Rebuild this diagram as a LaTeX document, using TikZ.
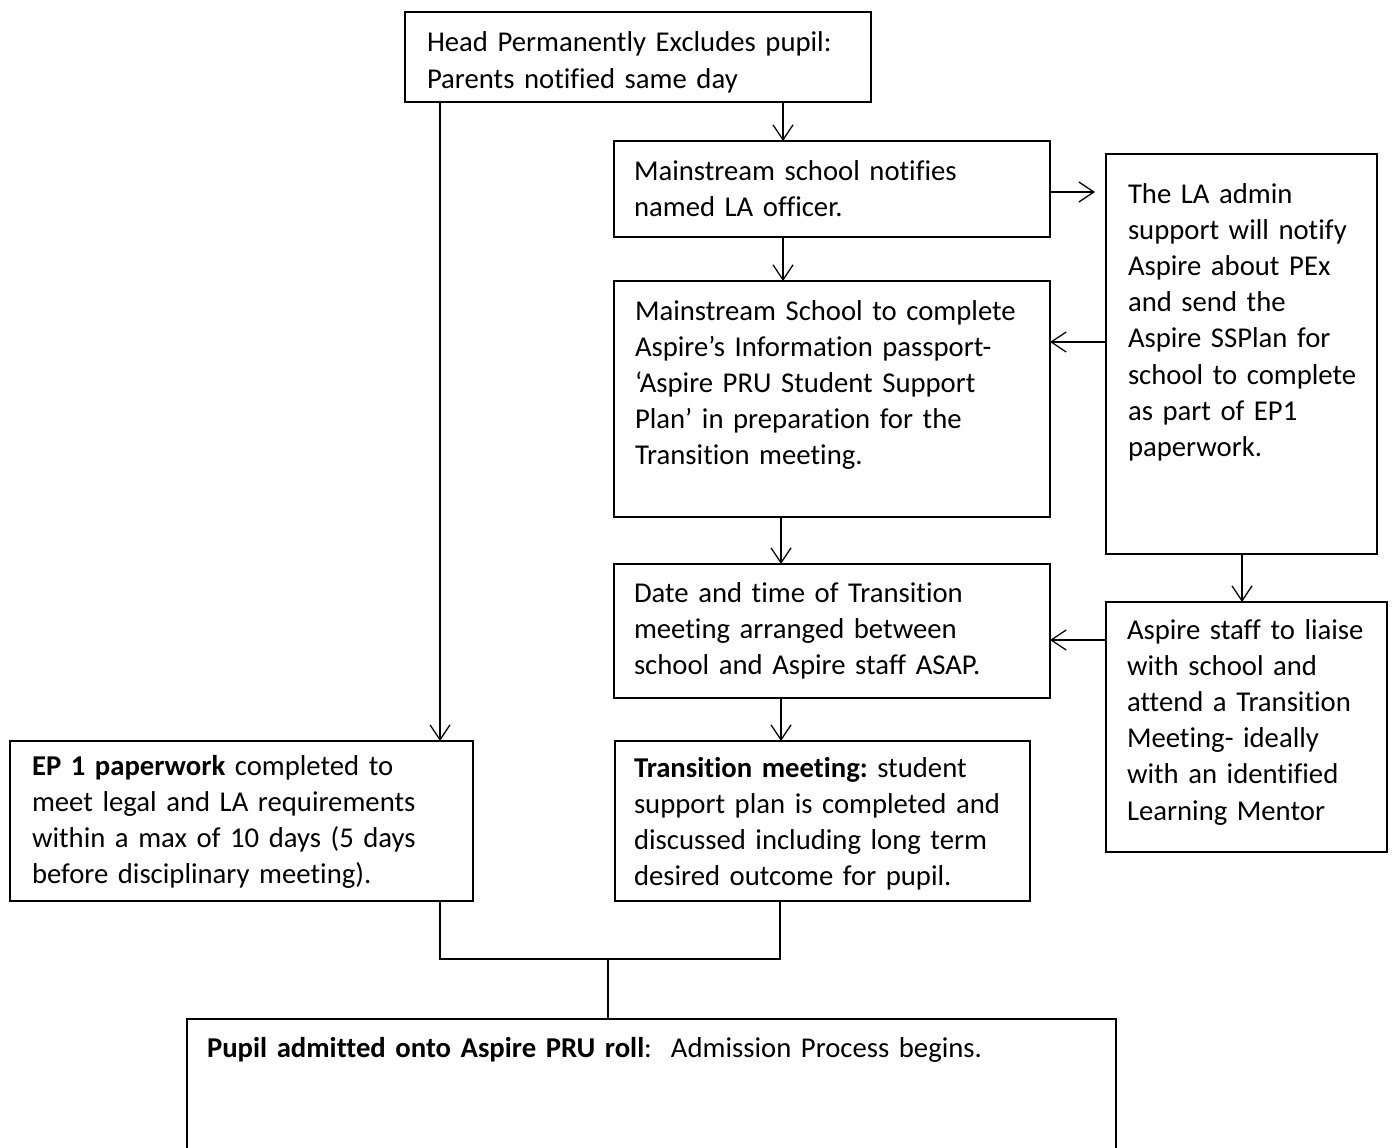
\documentclass[tikz,border=0pt]{standalone}
\usepackage{fontspec}
\setmainfont{Carlito}[Ligatures=NoCommon]
\usetikzlibrary{arrows.meta}
\begin{document}
\frenchspacing
\begin{tikzpicture}[x=1pt,y=-1pt,
  box/.style={draw, line width=1.8pt, inner sep=0pt, outer sep=0pt},
  txt/.style={inner sep=0pt, outer sep=0pt, anchor=base west, align=left,
    font=\fontsize{28.7}{36.2}\selectfont},
  arr/.style={line width=1.3pt, -{Straight Barb[length=15pt,width=20pt,line width=1.3pt]}},
  conn/.style={line width=1.1pt}]
\useasboundingbox (0,0) rectangle (1395,1148);
\clip (0,0) rectangle (1395,1148);

% boxes
\node[box, minimum width=466pt, minimum height=90pt]  (head)     at (638,57) {};
\node[box, minimum width=436pt, minimum height=96pt]  (notify)   at (832,189) {};
\node[box, minimum width=271pt, minimum height=400pt] (la)       at (1241.5,354) {};
\node[box, minimum width=436pt, minimum height=236pt] (complete) at (832,399) {};
\node[box, minimum width=436pt, minimum height=134pt] (date)     at (832,631) {};
\node[box, minimum width=281pt, minimum height=250pt] (staff)    at (1246.5,727) {};
\node[box, minimum width=463pt, minimum height=160pt] (ep)       at (241.5,821) {};
\node[box, minimum width=415pt, minimum height=160pt] (trans)    at (822.5,821) {};
\node[box, minimum width=929pt, minimum height=151pt] (pupil)    at (651.5,1094.5) {};

% texts
\node[txt, text width=450pt] (headt) at (427,52)
  {Head Permanently Excludes pupil:\\Parents notified same day};
\node[txt, text width=410pt] (notifyt) at (634,180)
  {Mainstream school notifies\\named LA officer.};
\node[txt, text width=250pt] (lat) at (1128,203)
  {The LA admin\\support will notify\\Aspire about PEx\\and send the\\Aspire SSPlan for\\school to complete\\as part of EP1\\paperwork.};
\node[txt, text width=410pt] (completet) at (635,320)
  {Mainstream School to complete\\Aspire’s Information passport-\\‘Aspire PRU Student Support\\Plan’ in preparation for the\\Transition meeting.};
\node[txt, text width=410pt] (datet) at (634,602)
  {Date and time of Transition\\meeting arranged between\\school and Aspire staff ASAP.};
\node[txt, text width=255pt] (stafft) at (1127,639)
  {Aspire staff to liaise\\with school and\\attend a Transition\\Meeting- ideally\\with an identified\\Learning Mentor};
\node[txt, text width=435pt] (ept) at (32,775)
  {\textbf{EP 1 paperwork} completed to\\meet legal and LA requirements\\within a max of 10 days (5 days\\before disciplinary meeting).};
\node[txt, text width=390pt] (transt) at (634,777)
  {\textbf{Transition meeting:} student\\support plan is completed and\\discussed including long term\\desired outcome for pupil.};
\node[txt, text width=900pt] (pupilt) at (207,1057)
  {\textbf{Pupil admitted onto Aspire PRU roll}:\ \ Admission Process begins.};

% guide coordinates
\coordinate (xa) at (783,0);
\coordinate (xb) at (781,0);
\coordinate (xl) at (440,0);
\coordinate (xr) at (780,0);
\coordinate (xm) at (1242,0);
\coordinate (ya) at (0,192);
\coordinate (yb) at (0,342);
\coordinate (yc) at (0,640);
\coordinate (tipa) at (1095,192);
\coordinate (join) at (608,959);

% arrows
\draw[arr] (head.south -| xa) -- (notify.north -| xa);
\draw[arr] (notify.east |- ya) -- (tipa);
\draw[arr] (notify.south -| xa) -- (complete.north -| xa);
\draw[arr] (la.west |- yb) -- (complete.east |- yb);
\draw[arr] (complete.south -| xb) -- (date.north -| xb);
\draw[arr] (la.south -| xm) -- (staff.north -| xm);
\draw[arr] (staff.west |- yc) -- (date.east |- yc);
\draw[arr] (date.south -| xb) -- (trans.north -| xb);
\draw[arr] (head.south -| xl) -- (ep.north -| xl);

% joining connector
\draw[conn] (ep.south -| xl) -- (xl |- join) -- (xr |- join) -- (trans.south -| xr);
\draw[conn] (join) -- (pupil.north -| join);
\end{tikzpicture}
\end{document}
